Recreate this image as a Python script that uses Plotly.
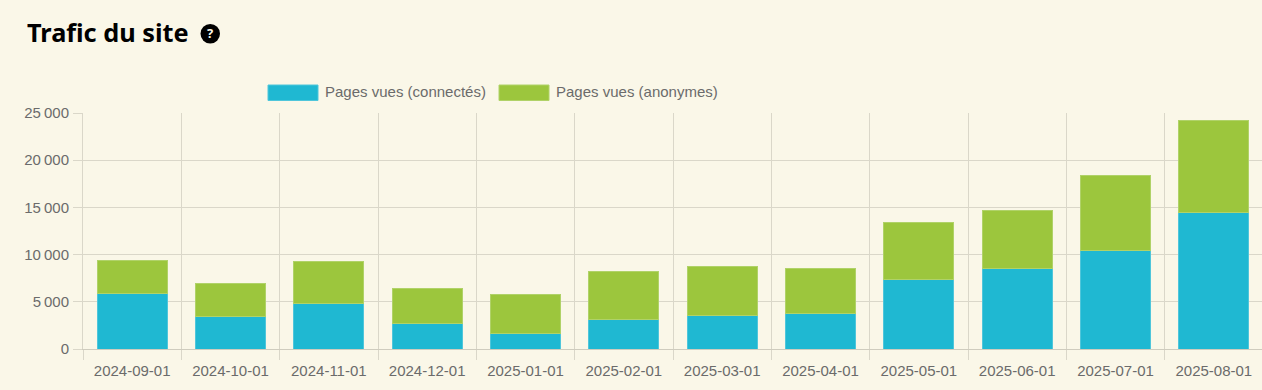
import plotly.graph_objects as go

months = ["2024-09-01", "2024-10-01", "2024-11-01", "2024-12-01", "2025-01-01", "2025-02-01",
          "2025-03-01", "2025-04-01", "2025-05-01", "2025-06-01", "2025-07-01", "2025-08-01"]
connected = [5930, 3440, 4770, 2750, 1650, 3150, 3550, 3750, 7400, 8500, 10450, 14450]
anonymous = [3440, 3500, 4520, 3700, 4150, 5100, 5230, 4770, 6050, 6150, 7950, 9800]
y_ticks = [0, 5000, 10000, 15000, 20000, 25000]
y_labels = ["0", "5\u202f000", "10\u202f000", "15\u202f000", "20\u202f000", "25\u202f000"]

BG = "#FAF7E8"
BLUE = "#1FB8D2"
GREEN = "#9CC63D"
GRID = "#DAD7C9"
AXIS = "#CFCCBE"
TEXT = "#6B6B6B"
W, H = 1263, 390
L, T, B = 83, 113, 41
PW, PH = W - L, H - T - B

fig = go.Figure()
for name, vals, col, edge in [("Pages vues (connectés)", connected, BLUE, "#4FC6DB"),
                              ("Pages vues (anonymes)", anonymous, GREEN, "#B0D268")]:
    fig.add_bar(x=months, y=vals, name=name, marker=dict(color=col, line=dict(color=edge, width=1)),
                width=0.715, showlegend=False)


def px(x):
    return (x - L) / PW


def py(y):
    return (H - B - y) / PH


shapes = [
    dict(type="rect", xref="paper", yref="paper", x0=px(268), x1=px(318), y0=py(100.5), y1=py(85),
         fillcolor=BLUE, line=dict(color="#4FC6DB", width=1)),
    dict(type="rect", xref="paper", yref="paper", x0=px(499), x1=px(549), y0=py(100.5), y1=py(85),
         fillcolor=GREEN, line=dict(color="#B0D268", width=1)),
    dict(type="circle", xref="paper", yref="paper", x0=px(200.5), x1=px(220), y0=py(43.5), y1=py(24),
         fillcolor="#000000", line=dict(width=0)),
]
annotations = [
    dict(text="<b>Trafic du site</b>", xref="paper", yref="paper", x=px(27), y=py(32), xanchor="left",
         yanchor="middle", showarrow=False, xshift=-2,
         font=dict(family="Noto Sans", size=25.3, color="#000000")),
    dict(text="<b>?</b>", xref="paper", yref="paper", x=px(210.2), y=py(33.5), xanchor="center",
         yanchor="middle", showarrow=False, font=dict(family="Noto Sans", size=13, color=BG)),
    dict(text="Pages vues (connectés)", xref="paper", yref="paper", x=px(325), y=py(91.5), xanchor="left",
         yanchor="middle", showarrow=False, xshift=-2, font=dict(family="Liberation Sans", size=15, color=TEXT)),
    dict(text="Pages vues (anonymes)", xref="paper", yref="paper", x=px(556), y=py(91.5), xanchor="left",
         yanchor="middle", showarrow=False, xshift=-2, font=dict(family="Liberation Sans", size=15, color=TEXT)),
]

fig.update_layout(
    width=W, height=H, autosize=False, barmode="stack",
    paper_bgcolor=BG, plot_bgcolor=BG,
    margin=dict(l=L, r=0, t=T, b=B),
    font=dict(family="Liberation Sans", size=15, color=TEXT),
    shapes=shapes, annotations=annotations,
    xaxis=dict(type="category", tickson="boundaries", ticks="outside", ticklen=10, tickcolor=GRID,
               showgrid=True, gridcolor=GRID, gridwidth=1, showline=True, linecolor=AXIS, tickangle=0,
               tickfont=dict(size=15, color=TEXT), zeroline=False, ticklabelstandoff=8),
    yaxis=dict(range=[0, 25000], tickvals=y_ticks, ticktext=y_labels, ticks="outside", ticklen=9,
               tickcolor=GRID, showgrid=True, gridcolor=GRID, gridwidth=1, showline=True, linecolor=GRID,
               tickfont=dict(size=15, color=TEXT), zeroline=False, ticklabelstandoff=1),
)
fig.write_html("out.html", config=dict(displayModeBar=False),
               post_script="document.body.style.margin='0';document.body.style.overflow='hidden';"
                           "document.documentElement.style.overflow='hidden';"
                           "document.body.style.background='%s';" % BG)
